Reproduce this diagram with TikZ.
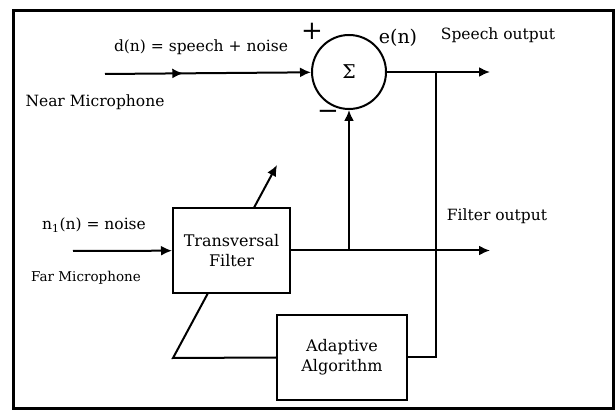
\documentclass[tikz,border=0pt]{standalone}
\usepackage{fontspec}
\setmainfont{DejaVu Serif}
\usetikzlibrary{positioning, arrows.meta, decorations.markings, backgrounds}
\tikzset{
    wire/.style = {draw, line width=2pt},
    sig/.style = {wire, -{Latex[length=11pt,width=10pt]}},
    midarrow/.style = {postaction={decorate}, decoration={markings, mark=at position #1 with {\arrow{Latex[length=11pt,width=10pt]}}}},
    block/.style = {wire, fill=white, align=center, font=\fontsize{16}{20}\selectfont},
    lbl/.style = {inner sep=0pt, font=\fontsize{15.5}{18}\selectfont},
    small lbl/.style = {inner sep=0pt, font=\fontsize{13.5}{16}\selectfont},
}

\begin{document}
\begin{tikzpicture}[x=1pt, y=-1pt]
        \useasboundingbox (0, 0) rectangle (616, 411);
        \draw[line width=3pt] (13, 11) rectangle (613, 409);

        % blocks
        \node[wire, circle, minimum size=74pt, inner sep=0pt, font=\fontsize{19}{20}\selectfont] (sum) at (349, 72) {Σ};
        \node[block, minimum width=117pt, minimum height=85pt] (tf) at (231.5, 250.5) {Transversal\\Filter};
        \node[block, minimum width=130pt, minimum height=85pt] (aa) at (342, 357.5) {Adaptive\\Algorithm};

        % ends of the signal lines
        \coordinate (d in) at (105, 74);
        \coordinate (n in) at (73, 251);
        \coordinate (speech out) at (490, 72);
        \coordinate (filter out) at (490, 250.5);
        \coordinate (split) at (436, 72);
        \coordinate (tail) at (173, 358);
        \coordinate (tip) at (277, 165);

        \draw[sig, midarrow=0.38] (d in) to (sum);
        \draw[sig] (n in) to (tf);
        \draw[sig] (sum) to (speech out);
        \draw[sig] (tf) to (filter out);
        \draw[sig] (sum.south |- tf.east) to (sum.south);
        \draw[wire] (split) |- (aa.east);
        \begin{scope}[on background layer]
            \draw[sig] (aa.west) -- (tail) -- (tip);
        \end{scope}

        % labels
        \node[lbl] (d lbl) at (201, 47) {d(n) = speech + noise};
        \node[lbl] (near) at (95, 102) {Near Microphone};
        \node[lbl] (n lbl) at (94, 225) {n\textsubscript{1}(n) = noise};
        \node[small lbl] (far) at (86, 278) {Far Microphone};
        \node[inner sep=0pt, font=\fontsize{19}{20}\selectfont] (err) at (398, 38) {e(n)};
        \node[lbl] (speech) at (498, 35) {Speech output};
        \node[lbl] (filter) at (497, 216) {Filter output};
        \node[inner sep=0pt, font=\fontsize{26}{26}\selectfont] (plus) at (312, 31) {+};
        \node[inner sep=0pt, font=\fontsize{26}{26}\selectfont] (minus) at (328, 115) {−};
    \end{tikzpicture}
\end{document}
